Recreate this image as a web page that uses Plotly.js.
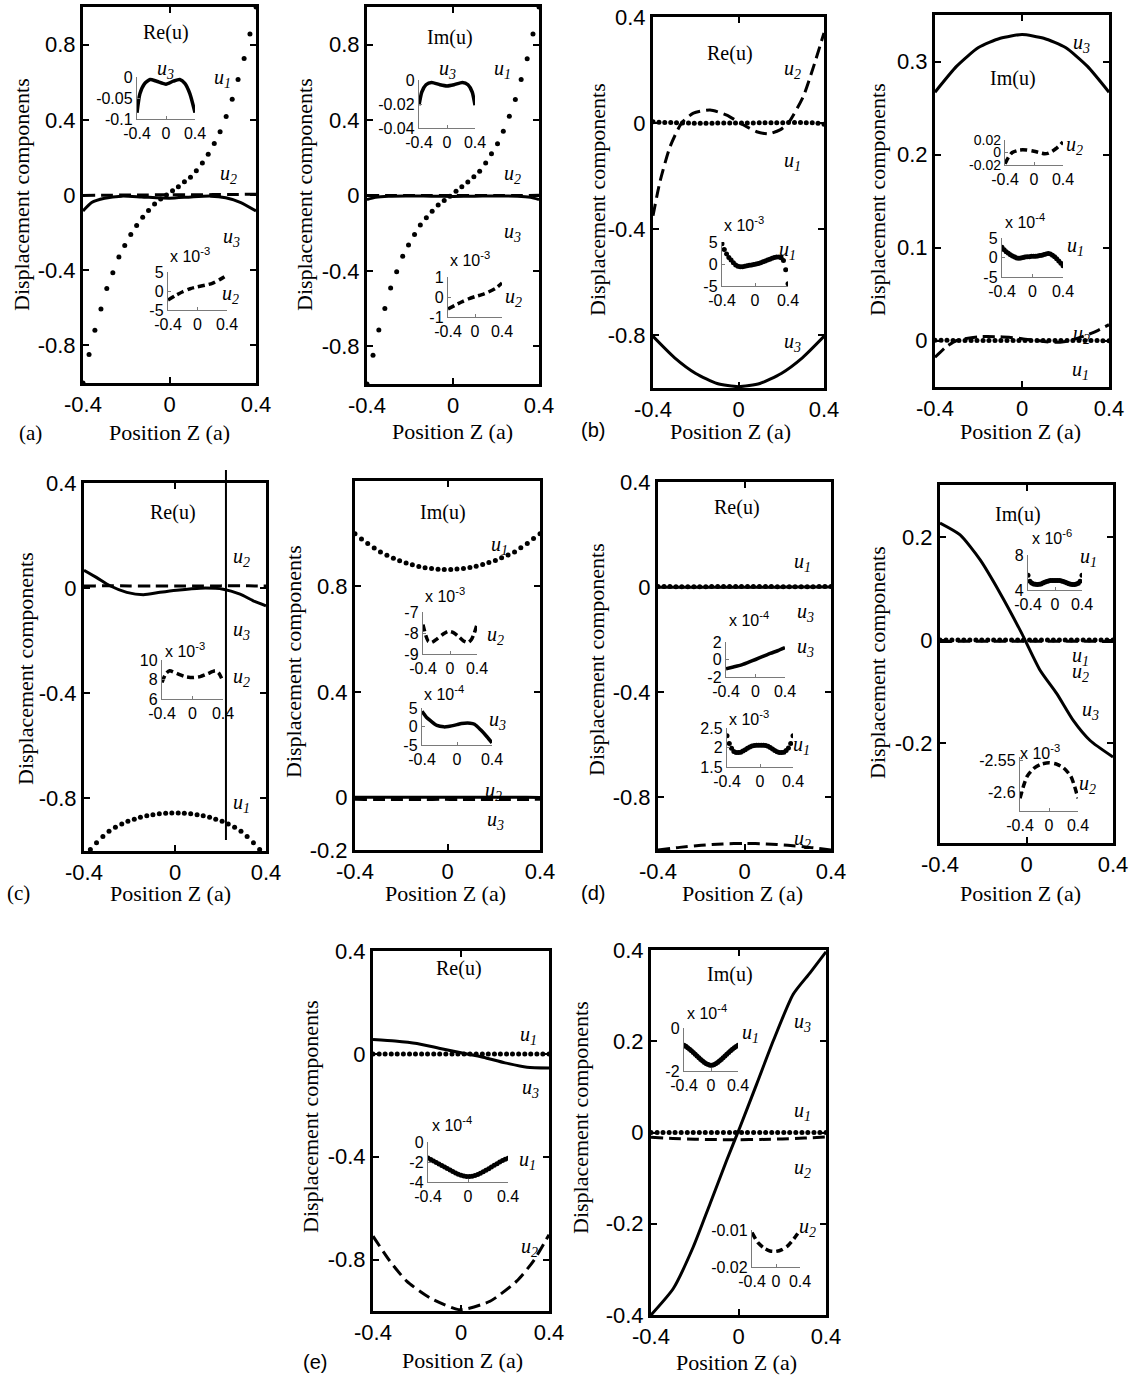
<!DOCTYPE html>
<html><head><meta charset="utf-8">
<script src="https://cdn.plot.ly/plotly-3.0.1.min.js"></script>
<style>html,body{margin:0;padding:0;background:#fff}#chart{width:1131px;height:1378px}</style>
</head><body><div id="chart"></div>
<script>
// ---------------- DATA ----------------
// common sample positions of the dotted series (Position Z, in units of a)
const zDots = [-0.4,-0.372,-0.345,-0.317,-0.29,-0.262,-0.234,-0.207,-0.179,-0.152,-0.124,-0.097,-0.069,-0.041,-0.014,0.014,0.041,0.069,0.097,0.124,0.152,0.179,0.207,0.234,0.262,0.29,0.317,0.345,0.372,0.4];
const xTicks = [-0.4, 0, 0.4];

// (a) Re(u)
const aRe_u1 = [-1.0,-0.848,-0.719,-0.607,-0.498,-0.413,-0.330,-0.268,-0.210,-0.162,-0.118,-0.083,-0.048,-0.021,0.0,0.023,0.044,0.071,0.094,0.129,0.170,0.217,0.274,0.336,0.417,0.509,0.615,0.726,0.857,1.0];
const aRe_u3_z = [-0.4,-0.36,-0.3,-0.22,-0.13,0,0.1,0.19,0.26,0.33,0.4];
const aRe_u3 = [-0.085,-0.04,-0.017,-0.006,-0.01,-0.017,-0.01,-0.006,-0.015,-0.04,-0.085];
const aRe_u2_z = [-0.4,-0.3,-0.2,-0.1,0,0.1,0.2,0.3,0.4];
const aRe_u2_e3 = [-2.4,-1.2,-0.2,0.6,1.1,1.5,2.0,3.0,4.2];            // x 10^-3
// (a) Im(u)
const aIm_u1 = [-1.0,-0.848,-0.714,-0.600,-0.491,-0.404,-0.322,-0.263,-0.207,-0.157,-0.118,-0.083,-0.051,-0.026,-0.004,0.023,0.046,0.071,0.099,0.129,0.173,0.221,0.274,0.341,0.42,0.509,0.615,0.726,0.857,1.0];
const aIm_u3_z = [-0.4,-0.36,-0.3,-0.22,-0.1,0,0.1,0.22,0.3,0.36,0.4];
const aIm_u3 = [-0.021,-0.01,-0.004,-0.002,-0.004,-0.005,-0.004,-0.002,-0.004,-0.01,-0.021];
const aIm_u2_z = [-0.4,-0.3,-0.2,-0.1,0,0.1,0.2,0.3,0.4];
const aIm_u2_e3 = [-0.6,-0.42,-0.25,-0.1,0.02,0.12,0.25,0.42,0.7];      // x 10^-3
// (b) Re(u)
const bRe_u2_z = [-0.4,-0.367,-0.32,-0.266,-0.211,-0.133,-0.055,0.007,0.085,0.14,0.194,0.233,0.303,0.35,0.4];
const bRe_u2 = [-0.35,-0.22,-0.089,0,0.037,0.049,0.03,0,-0.033,-0.041,-0.026,0,0.1,0.21,0.34];
const bRe_u3_z = [-0.4,-0.3,-0.2,-0.1,0,0.1,0.2,0.3,0.4];
const bRe_u3 = [-0.805,-0.885,-0.945,-0.983,-0.995,-0.983,-0.945,-0.885,-0.805];
const bRe_u1_e3 = [4.6,3.3,2.3,1.5,0.9,0.3,-0.2,-0.5,-0.6,-0.6,-0.5,-0.4,-0.3,-0.2,-0.1,0.0,0.1,0.3,0.5,0.7,0.9,1.1,1.3,1.5,1.6,1.6,1.4,0.8,-1.3,-4.5];
// (b) Im(u)
const bIm_u3_z = [-0.4,-0.3,-0.2,-0.1,0,0.1,0.2,0.3,0.4];
const bIm_u3 = [0.267,0.295,0.315,0.325,0.329,0.325,0.315,0.295,0.267];
const bIm_u2_z = [-0.4,-0.35,-0.3,-0.2,-0.1,0,0.1,0.15,0.2,0.25,0.3,0.35,0.4];
const bIm_u2 = [-0.018,-0.007,0.0,0.004,0.004,0.002,-0.001,-0.002,-0.001,0.002,0.006,0.011,0.017];
const bIm_u1_e4 = [2.6,2.0,1.5,1.1,0.7,0.4,0.1,-0.1,-0.2,-0.1,0.0,0.1,0.2,0.2,0.3,0.3,0.3,0.4,0.5,0.6,0.8,0.9,1.0,0.9,0.6,0.2,-0.3,-0.9,-1.5,-2.1];
// (c) Re(u)
const cRe_u3_z = [-0.4,-0.344,-0.286,-0.212,-0.139,-0.066,0.007,0.11,0.212,0.286,0.344,0.4];
const cRe_u3 = [0.068,0.04,0.009,-0.016,-0.025,-0.016,-0.008,0,-0.004,-0.023,-0.048,-0.067];
const cRe_u2_z = [-0.4,-0.35,-0.3,-0.2,-0.1,0,0.1,0.2,0.3,0.35,0.4];
const cRe_u2_e3 = [7.7,8.6,8.9,8.6,8.3,8.2,8.3,8.6,8.9,8.6,7.8];
const cRe_u1 = [-1.03,-0.994,-0.969,-0.945,-0.925,-0.91,-0.897,-0.887,-0.879,-0.872,-0.866,-0.862,-0.858,-0.856,-0.855,-0.855,-0.856,-0.858,-0.862,-0.866,-0.872,-0.879,-0.887,-0.897,-0.91,-0.925,-0.945,-0.969,-0.994,-1.03];
const cRe_cursorZ = [0.224];
// (c) Im(u)
const cIm_u1 = [1.0,0.98,0.963,0.946,0.931,0.918,0.907,0.897,0.889,0.882,0.876,0.871,0.868,0.865,0.864,0.864,0.866,0.868,0.872,0.877,0.883,0.891,0.898,0.909,0.919,0.931,0.947,0.963,0.982,1.0];
const cIm_u2_z = [-0.4,-0.36,-0.32,-0.27,-0.2,-0.1,-0.03,0.05,0.12,0.2,0.27,0.32,0.36,0.4];
const cIm_u2_e3 = [-7.6,-8.1,-8.4,-8.45,-8.3,-8.05,-7.92,-7.98,-8.15,-8.38,-8.45,-8.3,-8.0,-7.6];
const cIm_u3_z = [-0.4,-0.35,-0.3,-0.23,-0.15,-0.1,0,0.05,0.15,0.2,0.27,0.34,0.4];
const cIm_u3_e4 = [4.1,2.5,1.5,0.3,-0.1,0,0.5,0.8,0.9,0.6,-0.9,-2.7,-4.4];
// (d) Re(u)
const dRe_u1_e3 = [2.3,2.1,1.98,1.9,1.87,1.87,1.88,1.91,1.94,1.98,2.01,2.04,2.05,2.06,2.06,2.06,2.06,2.05,2.03,2.0,1.96,1.92,1.89,1.87,1.87,1.88,1.92,1.99,2.1,2.3];
const dRe_u3_z = [-0.4,-0.3,-0.2,-0.1,0,0.1,0.2,0.3,0.4];
const dRe_u3_e4 = [-1.05,-0.85,-0.65,-0.33,0,0.35,0.7,1.0,1.35];
const dRe_u2_z = [-0.4,-0.3,-0.2,-0.1,0,0.1,0.2,0.3,0.4];
const dRe_u2 = [-1.0,-0.99,-0.982,-0.977,-0.975,-0.977,-0.982,-0.99,-1.0];
// (d) Im(u)
const dIm_u3_z = [-0.4,-0.307,-0.215,-0.122,-0.022,0.062,0.14,0.216,0.294,0.4];
const dIm_u3 = [0.227,0.204,0.156,0.091,0.013,-0.058,-0.104,-0.156,-0.195,-0.227];
const dIm_u1_e6 = [5.7,5.0,4.8,4.7,4.65,4.63,4.65,4.7,4.8,4.9,4.98,5.04,5.08,5.1,5.1,5.1,5.1,5.08,5.04,4.98,4.9,4.8,4.72,4.66,4.63,4.64,4.68,4.78,5.0,5.7];
const dIm_u2_z = [-0.4,-0.35,-0.3,-0.2,-0.1,0,0.1,0.2,0.3,0.35,0.4];
const dIm_u2_e3 = [-2.61,-2.59,-2.575,-2.562,-2.556,-2.554,-2.556,-2.562,-2.575,-2.59,-2.61];
// (e) Re(u)
const eRe_u3_z = [-0.4,-0.3,-0.2,-0.1,0,0.1,0.2,0.3,0.4];
const eRe_u3 = [0.056,0.05,0.04,0.022,0.004,-0.013,-0.035,-0.052,-0.055];
const eRe_u1_e4 = [-1.6,-1.75,-1.9,-2.05,-2.2,-2.35,-2.5,-2.65,-2.8,-2.95,-3.1,-3.22,-3.32,-3.4,-3.45,-3.45,-3.42,-3.35,-3.25,-3.12,-2.98,-2.83,-2.67,-2.5,-2.33,-2.17,-2.0,-1.85,-1.72,-1.62];
const eRe_u2_z = [-0.4,-0.323,-0.247,-0.141,-0.004,0.132,0.253,0.329,0.4];
const eRe_u2 = [-0.709,-0.806,-0.884,-0.949,-0.995,-0.962,-0.884,-0.806,-0.703];
// (e) Im(u)
const eIm_u3_z = [-0.4,-0.298,-0.207,-0.13,-0.054,0.007,0.083,0.159,0.25,0.327,0.4];
const eIm_u3 = [-0.4,-0.342,-0.251,-0.156,-0.061,0.012,0.106,0.201,0.303,0.35,0.396];
const eIm_u1_e4 = [-0.8,-0.85,-0.92,-0.99,-1.06,-1.14,-1.22,-1.3,-1.38,-1.46,-1.53,-1.6,-1.66,-1.7,-1.73,-1.73,-1.71,-1.66,-1.6,-1.53,-1.46,-1.38,-1.3,-1.22,-1.14,-1.06,-0.99,-0.92,-0.86,-0.8];
const eIm_u2_z = [-0.4,-0.3,-0.2,-0.1,0,0.1,0.2,0.3,0.4];
const eIm_u2 = [-0.0105,-0.0133,-0.0148,-0.0156,-0.0157,-0.0152,-0.0141,-0.0122,-0.0099];

// tick labels of the main panels
const yTicks_aRe = [-0.8,-0.4,0,0.4,0.8];
const yTicks_aIm = [-0.8,-0.4,0,0.4,0.8];
const yTicks_bRe = [-0.8,-0.4,0,0.4];
const yTicks_bIm = [0,0.1,0.2,0.3];
const yTicks_cRe = [-0.8,-0.4,0,0.4];
const yTicks_cIm = [-0.2,0,0.4,0.8];
const yTicks_dRe = [-0.8,-0.4,0,0.4];
const yTicks_dIm = [-0.2,0,0.2];
const yTicks_eRe = [-0.8,-0.4,0,0.4];
const yTicks_eIm = [-0.4,-0.2,0,0.2,0.4];
// tick labels of the insets
const iTicks_aRe3 = [0,-0.05,-0.1], iTicks_aRe2 = [5,0,-5];
const iTicks_aIm3 = [0,-0.02,-0.04], iTicks_aIm2 = [1,0,-1];
const iTicks_bRe1 = [5,0,-5];
const iTicks_bIm2 = [0.02,0,-0.02], iTicks_bIm1 = [5,0,-5];
const iTicks_cRe2 = [10,8,6];
const iTicks_cIm2 = [-7,-8,-9], iTicks_cIm3 = [5,0,-5];
const iTicks_dRe3 = [2,0,-2], iTicks_dRe1 = [2.5,2,1.5];
const iTicks_dIm1 = [8,4], iTicks_dIm2 = [-2.55,-2.6];
const iTicks_eRe1 = [0,-2,-4];
const iTicks_eIm1 = [0,-2], iTicks_eIm2 = [-0.01,-0.02];

// ---------------- BUILD ----------------
const W = 1131, H = 1378;
const F_SANS = 'Liberation Sans, Arial, Helvetica, sans-serif';
const F_SERIF = 'Liberation Serif, Times New Roman, serif';
const layout = {width:W, height:H, autosize:false, margin:{l:0,r:0,t:0,b:0,pad:0},
  paper_bgcolor:'#ffffff', plot_bgcolor:'rgba(0,0,0,0)', showlegend:false,
  annotations:[], shapes:[], font:{family:F_SANS, color:'#000'}};
const traces = [];
let axN = 0;
const txt = v => v.map(String);

function addAxes(box, yr, yt, inset, fs){
  axN++;
  const id = axN === 1 ? '' : String(axN);
  const [l, r, t, b] = box;
  const base = {showgrid:false, zeroline:false, fixedrange:true, showline:true, ticks:'inside', layer:'above traces'};
  const style = inset
    ? {linecolor:'#7a7a7a', linewidth:1.2, mirror:false, ticklen:3, tickwidth:1, tickcolor:'#7a7a7a',
       tickfont:{family:F_SANS, size:16, color:'#000'}}
    : {linecolor:'#000', linewidth:3, mirror:'ticks', ticklen:6, tickwidth:2, tickcolor:'#000',
       tickfont:{family:F_SANS, size:22, color:'#000'}};
  layout['xaxis'+id] = Object.assign({}, base, style, {domain:[l/W, r/W], range:[-0.4,0.4],
     tickmode:'array', tickvals:xTicks, ticktext:txt(xTicks), anchor:'y'+id});
  layout['yaxis'+id] = Object.assign({}, base, style, {domain:[1-b/H, 1-t/H], range:yr,
     tickmode:'array', tickvals:yt, ticktext:txt(yt), anchor:'x'+id});
  if (fs) layout['yaxis'+id].tickfont = {family:F_SANS, size:fs, color:'#000'};
  return {x:'x'+id, y:'y'+id};
}
function tr(ax, x, y, kind, scale, inset){
  const s = scale || 1;
  const t = {type:'scatter', x:x, y:y.map(v => v*s), xaxis:ax.x, yaxis:ax.y, hoverinfo:'skip'};
  if (kind === 'dot') { t.mode = 'markers'; t.marker = {size:5, color:'#000'}; }
  else {
    t.mode = 'lines';
    t.line = {color:'#000', width: inset ? 3.5 : 3, shape:'spline', smoothing:0.6};
    if (kind === 'dash') t.line.dash = inset ? '7px,4px' : '12px,6px';
  }
  traces.push(t);
}
function ann(x, y, text, o){
  layout.annotations.push(Object.assign({xref:'paper', yref:'paper', x:x/W, y:1-y/H, text:text,
    showarrow:false, xanchor:'center', yanchor:'middle',
    font:{family:F_SERIF, size:20, color:'#000'}}, o || {}));
}
const U = n => '<i>u</i><sub><i>' + n + '</i></sub>';
const uLab = (x, y, n) => ann(x, y, U(n), {font:{family:F_SERIF, size:20, color:'#000'}});
const xTen = (x, y, p) => ann(x, y, 'x 10<sup>' + p + '</sup>', {xanchor:'left', font:{family:F_SANS, size:16, color:'#000'}});
const yTitle = (x, y) => ann(x, y, 'Displacement components', {textangle:-90, font:{family:F_SERIF, size:22, color:'#000'}});
const xTitle = (x, y) => ann(x, y, 'Position Z (a)', {font:{family:F_SERIF, size:22, color:'#000'}});

// main panels
const P1 = addAxes([83,256,7,383],   [-1,1],        yTicks_aRe);
const P2 = addAxes([367,539,7,384],  [-1,1],        yTicks_aIm);
const P3 = addAxes([653,824,17,388], [-1,0.4],      yTicks_bRe);
const P4 = addAxes([935,1109,15,387],[-0.05,0.35],  yTicks_bIm);
const P5 = addAxes([84,266,483,851], [-1,0.4],      yTicks_cRe);
const P6 = addAxes([355,540,481,850],[-0.2,1.2],    yTicks_cIm);
const P7 = addAxes([658,831,482,850],[-1,0.4],      yTicks_dRe);
const P8 = addAxes([940,1113,485,843],[-0.394,0.301],yTicks_dIm);
const P9 = addAxes([373,549,951,1311],[-1,0.4],     yTicks_eRe);
const P10= addAxes([651,826,950,1315],[-0.4,0.4],   yTicks_eIm);
// insets
const I1a = addAxes([137,195,77,119],  [-0.1,0],   iTicks_aRe3, true);
const I1b = addAxes([168,227,272,310], [-5,5],     iTicks_aRe2, true);
const I2a = addAxes([419,475,80,128],  [-0.04,0],  iTicks_aIm3, true);
const I2b = addAxes([448,502,277,317], [-1,1],     iTicks_aIm2, true);
const I3  = addAxes([722,788,242,286], [-5,5],     iTicks_bRe1, true);
const I4a = addAxes([1005,1063,140,165],[-0.02,0.02],iTicks_bIm2, true, 14);
const I4b = addAxes([1002,1063,238,277],[-5,5],    iTicks_bIm1, true);
const I5  = addAxes([162,223,660,699], [6,10],     iTicks_cRe2, true);
const I6a = addAxes([423,477,612,654], [-9,-7],    iTicks_cIm2, true);
const I6b = addAxes([422,492,708,745], [-5,5],     iTicks_cIm3, true);
const I7a = addAxes([726,785,642,677], [-2,2],     iTicks_dRe3, true);
const I7b = addAxes([727,793,728,767], [1.5,2.5],  iTicks_dRe1, true);
const I8a = addAxes([1028,1082,555,590],[4,8],     iTicks_dIm1, true);
const I8b = addAxes([1020,1078,757,811],[-2.63,-2.545], iTicks_dIm2, true);
const I9  = addAxes([428,508,1142,1182],[-4,0],    iTicks_eRe1, true);
const I10a= addAxes([684,738,1028,1071],[-2,0],    iTicks_eIm1, true);
const I10b= addAxes([752,800,1230,1267],[-0.02,-0.0098], iTicks_eIm2, true);

// traces: (a)
tr(P1, aRe_u3_z, aRe_u3, 'solid');
tr(P1, aRe_u2_z, aRe_u2_e3, 'dash', 1e-3);
tr(P1, zDots, aRe_u1, 'dot');
tr(I1a, aRe_u3_z, aRe_u3, 'solid', 1, true);
tr(I1b, aRe_u2_z, aRe_u2_e3, 'dash', 1, true);
tr(P2, aIm_u3_z, aIm_u3, 'solid');
tr(P2, aIm_u2_z, aIm_u2_e3, 'dash', 1e-3);
tr(P2, zDots, aIm_u1, 'dot');
tr(I2a, aIm_u3_z, aIm_u3, 'solid', 1, true);
tr(I2b, aIm_u2_z, aIm_u2_e3, 'dash', 1, true);
// (b)
tr(P3, bRe_u3_z, bRe_u3, 'solid');
tr(P3, bRe_u2_z, bRe_u2, 'dash');
tr(P3, zDots, bRe_u1_e3, 'dot', 1e-3);
tr(I3, zDots, bRe_u1_e3, 'dot', 1, true);
tr(P4, bIm_u3_z, bIm_u3, 'solid');
tr(P4, bIm_u2_z, bIm_u2, 'dash');
tr(P4, zDots, bIm_u1_e4, 'dot', 1e-4);
tr(I4a, bIm_u2_z, bIm_u2, 'dash', 1, true);
tr(I4b, zDots, bIm_u1_e4, 'dot', 1, true);
// (c)
tr(P5, cRe_u3_z, cRe_u3, 'solid');
tr(P5, cRe_u2_z, cRe_u2_e3, 'dash', 1e-3);
tr(P5, zDots, cRe_u1, 'dot');
tr(I5, cRe_u2_z, cRe_u2_e3, 'dash', 1, true);
tr(P6, cIm_u2_z, cIm_u2_e3, 'dash', 1e-3);
tr(P6, cIm_u3_z, cIm_u3_e4, 'solid', 1e-4);
tr(P6, zDots, cIm_u1, 'dot');
tr(I6a, cIm_u2_z, cIm_u2_e3, 'dash', 1, true);
tr(I6b, cIm_u3_z, cIm_u3_e4, 'solid', 1, true);
// (d)
tr(P7, dRe_u3_z, dRe_u3_e4, 'solid', 1e-4);
tr(P7, dRe_u2_z, dRe_u2, 'dash');
tr(P7, zDots, dRe_u1_e3, 'dot', 1e-3);
tr(I7a, dRe_u3_z, dRe_u3_e4, 'solid', 1, true);
tr(I7b, zDots, dRe_u1_e3, 'dot', 1, true);
tr(P8, dIm_u3_z, dIm_u3, 'solid');
tr(P8, dIm_u2_z, dIm_u2_e3, 'dash', 1e-3);
tr(P8, zDots, dIm_u1_e6, 'dot', 1e-6);
tr(I8a, zDots, dIm_u1_e6, 'dot', 1, true);
tr(I8b, dIm_u2_z, dIm_u2_e3, 'dash', 1, true);
// (e)
tr(P9, eRe_u3_z, eRe_u3, 'solid');
tr(P9, eRe_u2_z, eRe_u2, 'dash');
tr(P9, zDots, eRe_u1_e4, 'dot', 1e-4);
tr(I9, zDots, eRe_u1_e4, 'dot', 1, true);
tr(P10, eIm_u3_z, eIm_u3, 'solid');
tr(P10, eIm_u2_z, eIm_u2, 'dash');
tr(P10, zDots, eIm_u1_e4, 'dot', 1e-4);
tr(I10a, zDots, eIm_u1_e4, 'dot', 1, true);
tr(I10b, eIm_u2_z, eIm_u2, 'dash', 1, true);

// vertical cursor line in panel (c) Re
layout.shapes.push({type:'line', xref:P5.x, x0:cRe_cursorZ[0], x1:cRe_cursorZ[0], yref:'paper',
  y0:1-840/H, y1:1-470/H, line:{color:'#000', width:2}, layer:'above'});

// ---------------- TEXT ----------------
// row 1
ann(166,32,'Re(u)'); ann(450,37,'Im(u)'); ann(730,54,'Re(u)'); ann(1013,79,'Im(u)');
uLab(222,79,1); uLab(228,175,2); uLab(231,237,3); uLab(165,69,3); uLab(230,294,2);
uLab(502,69,1); uLab(512,175,2); uLab(512,232,3); uLab(447,69,3); uLab(513,297,2);
uLab(792,69,2); uLab(792,162,1); uLab(787,250,1); uLab(792,342,3);
uLab(1081,43,3); uLab(1074,145,2); uLab(1075,247,1); uLab(1081,334,2); uLab(1080,370,1);
xTen(168,255,'-3'); xTen(448,259,'-3'); xTen(722,224,'-3'); xTen(1003,221,'-4');
yTitle(22,195); yTitle(305,195); yTitle(597,200); yTitle(877,200);
xTitle(169,432); xTitle(452,431); xTitle(730,431); xTitle(1020,431);
ann(30,433,'(a)',{font:{family:F_SERIF,size:21,color:'#000'}});
ann(593,430,'(b)',{font:{family:F_SANS,size:20,color:'#000'}});
// row 2
ann(173,512,'Re(u)'); ann(443,513,'Im(u)'); ann(737,507,'Re(u)'); ann(1018,514,'Im(u)');
uLab(242,557,2); uLab(242,630,3); uLab(242,677,2); uLab(242,803,1);
uLab(499,545,1); uLab(495,635,2); uLab(497,720,3); uLab(493,791,2); uLab(495,820,3);
uLab(802,562,1); uLab(805,612,3); uLab(805,647,3); uLab(801,745,1); uLab(802,840,2);
uLab(1088,557,1); uLab(1080,656,1); uLab(1080,672,2); uLab(1090,710,3); uLab(1087,784,2);
xTen(163,650,'-3'); xTen(423,595,'-3'); xTen(422,693,'-4'); xTen(727,619,'-4'); xTen(727,718,'-3');
xTen(1030,537,'-6'); xTen(1018,752,'-3');
yTitle(25,669); yTitle(293,662); yTitle(597,660); yTitle(877,663);
xTitle(170,893); xTitle(445,893); xTitle(742,893); xTitle(1020,893);
ann(18,893,'(c)',{font:{family:F_SERIF,size:21,color:'#000'}});
ann(593,893,'(d)',{font:{family:F_SANS,size:20,color:'#000'}});
// row 3
ann(459,968,'Re(u)'); ann(730,975,'Im(u)');
uLab(528,1035,1); uLab(530,1088,3); uLab(527,1160,1); uLab(529,1247,2);
uLab(802,1022,3); uLab(750,1033,1); uLab(802,1111,1); uLab(802,1168,2); uLab(807,1227,2);
xTen(430,1124,'-4'); xTen(685,1012,'-4');
yTitle(310,1117); yTitle(580,1118);
xTitle(462,1360); xTitle(736,1362);
ann(315,1362,'(e)',{font:{family:F_SANS,size:20,color:'#000'}});

Plotly.newPlot('chart', traces, layout, {staticPlot:true, displayModeBar:false});
</script>
</body></html>
